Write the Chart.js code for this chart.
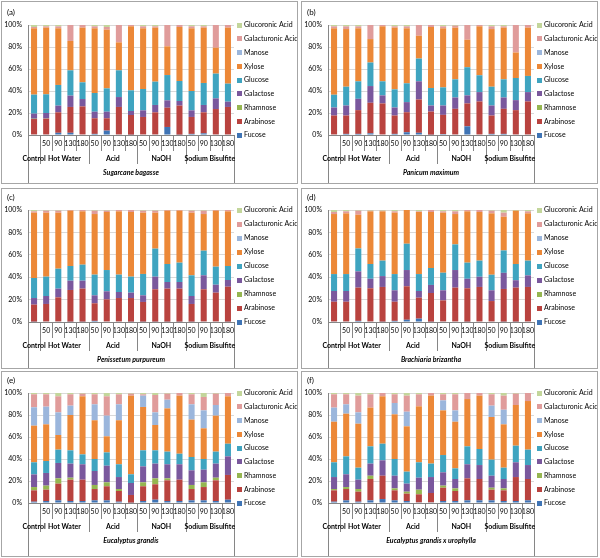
<!DOCTYPE html>
<html>
<head>
<meta charset="utf-8">
<title>Sugar composition after pretreatment</title>
<script src="https://cdn.jsdelivr.net/npm/chart.js@4.4.0/dist/chart.umd.min.js"></script>
<style>
    body { margin: 0; background: #fff; }
    .panel { position: absolute; border: 1px solid #a6a6a6; background: #fff; }
    .panel canvas { display: block; }
</style>
</head>
<body>
<div id="figure"></div>
<script>
/**
 * Monosaccharide composition (% of total) of six biomasses
 * after hot water, acid, NaOH and sodium bisulfite pretreatment
 */

// Series, bottom of the stack first
const components = ['Fucose', 'Arabinose', 'Rhamnose', 'Galactose', 'Glucose', 'Xylose', 'Manose', 'Galacturonic Acid', 'Glucoronic Acid'];

// [time, treatment] for each bar
const categories = [
    ['', 'Control'],
    ['50', 'Hot Water'], ['90', 'Hot Water'], ['130', 'Hot Water'], ['180', 'Hot Water'],
    ['50', 'Acid'], ['90', 'Acid'], ['130', 'Acid'], ['180', 'Acid'],
    ['50', 'NaOH'], ['90', 'NaOH'], ['130', 'NaOH'], ['180', 'NaOH'],
    ['50', 'Sodium Bisulfite'], ['90', 'Sodium Bisulfite'], ['130', 'Sodium Bisulfite'], ['180', 'Sodium Bisulfite']
];

const yTicks = [0, 10, 20, 30, 40, 50, 60, 70, 80, 90, 100];

// one row per component, one value per bar
const sugarcaneBagasse = [
    [0.5, 0.5, 2, 2, 0.5, 1, 4, 0.5, 0.3, 0.5, 0.5, 7.3, 0.3, 1, 1.5, 0.5, 0.5],
    [14, 14.3, 18.6, 23.5, 25.5, 14.2, 11.2, 25, 17.9, 15.9, 20.1, 17.5, 26.4, 15.4, 19.1, 23.1, 25],
    [0.3, 0.2, 0, 0, 0, 0, 0, 0, 0, 0, 0, 0, 0, 0, 0, 0, 0],
    [4.6, 5, 6.1, 10.3, 6.7, 6, 6, 9, 3.6, 6, 6.7, 6.7, 4.2, 6, 6.7, 9.7, 4.8],
    [17.3, 17, 18.8, 23, 15.2, 17, 21.2, 24.3, 18.8, 19.4, 21.2, 23, 18.2, 17.6, 20, 22.5, 16.4],
    [60.3, 60.6, 51.5, 26.7, 49.7, 58.8, 53.4, 25.4, 58.2, 55.2, 49.1, 26.1, 49.1, 57, 50.3, 23.6, 50.9],
    [0, 0, 0, 0, 0, 0, 0, 0, 0, 0, 0, 0, 0, 0, 0, 0, 0],
    [1.2, 1.2, 1.8, 14.5, 2.4, 1.8, 2.4, 15.8, 1.2, 1.8, 1.2, 19.4, 1.8, 1.8, 1.2, 20.6, 2.4],
    [1.8, 1.2, 1.2, 0, 0, 1.2, 1.8, 0, 0, 1.2, 1.2, 0, 0, 1.2, 1.2, 0, 0]
];

const panicumMaximum = [
    [0.5, 1, 1, 1.5, 0.5, 1, 2.5, 2, 0.3, 0.8, 0.5, 7.9, 0.5, 1, 1, 0.5, 0.5],
    [17.2, 16.7, 21.6, 27.8, 28.2, 16.7, 18.2, 30.3, 21, 17.5, 23.3, 20.8, 30, 16.7, 22.8, 22.1, 30],
    [0, 0, 0, 0, 0, 0, 0, 0, 0, 0, 0, 0, 0, 0, 0, 0, 0],
    [7.3, 9.1, 10.3, 15.2, 7.3, 7.3, 9.2, 16.5, 5.5, 8.5, 10.3, 7.3, 8.5, 9.1, 10.3, 9.1, 8.5],
    [11.6, 17.1, 15.9, 21.4, 12.8, 16.5, 17.1, 20.7, 15.9, 16.5, 16.5, 25.6, 15.3, 17.1, 16.5, 20.1, 14.7],
    [60.4, 52.4, 48.2, 21.3, 50, 56.1, 50, 20.7, 55.5, 53.7, 47, 25, 44.5, 52.4, 47, 23.2, 43.9],
    [0, 0, 0, 0, 0, 0, 0, 0, 0, 0, 0, 0, 0, 0, 0, 0, 0],
    [1.8, 2.5, 1.8, 12.8, 1.2, 1.2, 1.8, 9.8, 1.8, 1.8, 1.8, 13.4, 1.2, 2.5, 1.2, 25, 2.4],
    [1.2, 1.2, 1.2, 0, 0, 1.2, 1.2, 0, 0, 1.2, 0.6, 0, 0, 1.2, 1.2, 0, 0]
];

const penissetumPurpureum = [
    [0.3, 0.5, 0.5, 0.3, 0.3, 1, 0.5, 0.5, 0.3, 0.3, 0.3, 0.3, 0.3, 0.3, 0.5, 0.5, 0.3],
    [15.2, 15.6, 21.5, 28.3, 29.5, 15.7, 19.7, 20.9, 21.1, 17.6, 28.9, 29.5, 29.5, 15.8, 28.7, 25.7, 31.2],
    [0, 0, 0, 0, 0, 0, 0, 0, 0, 0, 0, 0, 0, 0, 0, 0, 0],
    [5.9, 7.1, 7.8, 8.3, 7.1, 7.1, 7.2, 5.4, 4.8, 5.9, 11.3, 5.9, 5.9, 7.1, 12.5, 7.1, 6],
    [17.9, 17.3, 17.8, 13.1, 14.3, 18.5, 19, 15.5, 14.3, 19.1, 25, 16.1, 17.3, 18.5, 22, 16.1, 12.5],
    [58.3, 57.1, 50, 49.4, 47.6, 54.1, 51.8, 56.5, 57.7, 54.7, 32.1, 47.6, 46.4, 55.9, 32.7, 50, 48.8],
    [0, 0, 0, 0, 0, 0, 0, 0, 0, 0, 0, 0, 0, 0, 0, 0, 0],
    [1.2, 1.8, 1.8, 0.6, 1.2, 3, 1.2, 1.2, 1.8, 1.8, 1.8, 0.6, 0.6, 1.8, 3, 0.6, 1.2],
    [1.2, 0.6, 0.6, 0, 0, 0.6, 0.6, 0, 0, 0.6, 0.6, 0, 0, 0.6, 0.6, 0, 0]
];

const brachiariaBrizantha = [
    [0.5, 0.5, 1, 0.5, 0.3, 1, 2, 3, 0.3, 0.5, 0.5, 0.3, 0.5, 0.5, 0.3, 0.3, 0.5],
    [17.6, 17.6, 29.7, 29.6, 31, 17.1, 29.9, 18.7, 25.6, 18.8, 30.2, 29.8, 30.8, 18.2, 29.2, 30.4, 30.8],
    [0, 0, 0, 0, 0, 0, 0, 0, 0, 0, 0, 0, 0, 0, 0, 0, 0],
    [9.6, 9.6, 14.5, 8.5, 9.7, 10.2, 14.5, 6, 7.2, 9, 15.7, 8.5, 9.1, 9.6, 14.4, 6.6, 10.3],
    [15.1, 15.1, 20.5, 13.2, 13.8, 14.5, 23.5, 15.1, 15.1, 15.7, 22.9, 14.4, 14.4, 13.9, 20, 14.5, 13.2],
    [53.6, 54.2, 30.1, 47, 44, 54.8, 30.1, 55.4, 50, 53.6, 27.1, 45.8, 43.4, 54.8, 30.1, 47.6, 42.2],
    [0, 0, 0, 0, 0, 0, 0, 0, 0, 0, 0, 0, 0, 0, 0, 0, 0],
    [1.8, 1.8, 3.6, 0.6, 0.6, 1.2, 0, 0.6, 1.8, 1.2, 2.4, 1.2, 1.8, 2.4, 3.6, 0, 1.8],
    [1.8, 1.2, 0.6, 0.6, 0.6, 1.2, 0, 1.2, 0, 1.2, 1.2, 0, 0, 0.6, 2.4, 0.6, 1.2]
];

const eucalyptusGrandis = [
    [1.2, 1.8, 2.4, 1.8, 1.8, 2.4, 2.4, 1.2, 0.3, 1.8, 3, 1.8, 1.8, 2.4, 2.4, 1.8, 3],
    [10.3, 10.3, 15.2, 19.4, 19.4, 10.3, 12.8, 9.7, 7, 13.4, 14, 18.8, 19.4, 10.3, 12.1, 18.8, 22.5],
    [3, 3.7, 4.8, 1.8, 0, 3.7, 3.6, 1.8, 0, 3.6, 5.4, 1.8, 0, 3.7, 4.3, 2.4, 0],
    [11.5, 11.5, 14, 12.8, 14, 12.7, 15.1, 10.9, 10.9, 14.5, 13.4, 12.8, 14, 13.3, 11.5, 12.8, 16.9],
    [11, 10.9, 12.1, 12.1, 9, 10.9, 12.1, 11.6, 7.9, 14.6, 12.1, 11.5, 9.6, 12.1, 9.7, 10.9, 11.5],
    [33.3, 33.3, 13.3, 32.1, 52.8, 35.2, 14.6, 40, 71.5, 39.4, 23, 39.3, 52.8, 34, 27.9, 32.7, 43.1],
    [16.7, 16.1, 20.6, 8.5, 0, 14.5, 18.8, 14.5, 0, 10.3, 11.5, 7.9, 0, 13.9, 16.3, 9.7, 0],
    [11.8, 11.2, 14.6, 10.3, 2.4, 9.1, 17.6, 9.1, 1.8, 1.2, 15.8, 5.5, 2.4, 9.1, 12.2, 10.3, 3],
    [1.2, 1.2, 3, 1.2, 0.6, 1.2, 3, 1.2, 0.6, 1.2, 1.8, 0.6, 0, 1.2, 3.6, 0.6, 0]
];

const eucalyptusUrophylla = [
    [1.2, 2.4, 1.2, 2.4, 3.6, 2.4, 1.8, 0.6, 0.6, 1.8, 1.8, 2.4, 2.4, 2.4, 1.8, 1.8, 2.4],
    [10.3, 10.3, 9.1, 19.4, 21.2, 9.1, 6.7, 7.3, 8.5, 12.1, 9.1, 20, 19.4, 9.7, 9.7, 21.8, 19.4],
    [1.2, 1.8, 2.4, 3, 0, 1.8, 1.8, 4.2, 0, 1.9, 2.4, 0, 0, 1.8, 1.8, 0, 0],
    [10.9, 11.6, 8.5, 11, 14, 11.5, 7.3, 10.9, 14.5, 12.1, 8.5, 12.8, 12.7, 10.9, 8.5, 13.4, 12.7],
    [13.4, 16.3, 10.9, 15.7, 15.1, 15.2, 10.9, 14, 12.2, 15.7, 9.7, 16.3, 14.6, 14.6, 10.3, 15.1, 14],
    [36.9, 38.8, 40, 35.2, 43.1, 40.6, 41.2, 50.9, 61.8, 40.6, 42.4, 43, 48.5, 38.8, 39.4, 37, 44.2],
    [12.8, 8.5, 10.3, 0, 0, 10.3, 13.3, 0, 0, 9.1, 10.3, 0, 0, 10.3, 13.3, 0, 0],
    [12.1, 9.1, 15.2, 12.1, 3, 7.9, 14.6, 10.9, 2.4, 5.5, 14.6, 5.5, 2.4, 10.3, 12.8, 10.3, 7.3],
    [1.2, 1.2, 2.4, 1.2, 0, 1.2, 2.4, 1.2, 0, 1.2, 1.2, 0, 0, 1.2, 2.4, 0.6, 0]
];

const panels = [
    { tag: '(a)', species: 'Sugarcane bagasse', values: sugarcaneBagasse },
    { tag: '(b)', species: 'Panicum maximum', values: panicumMaximum },
    { tag: '(c)', species: 'Penissetum purpureum', values: penissetumPurpureum },
    { tag: '(d)', species: 'Brachiaria brizantha', values: brachiariaBrizantha },
    { tag: '(e)', species: 'Eucalyptus grandis', values: eucalyptusGrandis },
    { tag: '(f)', species: 'Eucalyptus grandis x urophylla', values: eucalyptusUrophylla }
];

// Styling / layout only
const componentColors = ['#3f74b5', '#b9433f', '#95b650', '#7a589d', '#3fa4c0', '#ec8838', '#9bb6dc', '#e09c9b', '#c3d69b'];
const boxes = [
    { left: 1, top: 1, width: 297, height: 183, plotTop: 23, axisHeight: 48 },
    { left: 301, top: 1, width: 297, height: 183, plotTop: 23, axisHeight: 48 },
    { left: 1, top: 188, width: 297, height: 181, plotTop: 21, axisHeight: 46 },
    { left: 301, top: 188, width: 297, height: 181, plotTop: 21, axisHeight: 46 },
    { left: 1, top: 371, width: 297, height: 186, plotTop: 21, axisHeight: 53 },
    { left: 301, top: 371, width: 297, height: 186, plotTop: 21, axisHeight: 53 }
];
const FONT = 'Lato';
const FONT_SIZE = 7;
const AXIS_COLOR = '#868686';

Chart.defaults.font.family = FONT;
Chart.defaults.font.size = FONT_SIZE;
Chart.defaults.color = '#000';

/**
 * Draws the panel tag, the legend and the 3-level category axis
 */
const panelDecor = {
    id: 'panelDecor',
    afterDraw(chart, args, opts) {
        const ctx = chart.ctx;
        const area = chart.chartArea;
        const xScale = chart.scales.x;
        const labels = chart.data.labels;
        const step = (area.right - area.left) / labels.length;
        const y0 = area.bottom;

        ctx.save();
        ctx.textBaseline = 'middle';

        // panel tag
        ctx.fillStyle = '#000';
        ctx.font = '8px ' + FONT;
        ctx.textAlign = 'left';
        ctx.fillText(opts.tag, 5, area.top - 13);

        // legend, top item = last series
        const items = chart.data.datasets.slice().reverse();
        const gap = (area.bottom - area.top) / (items.length - 1);
        ctx.font = FONT_SIZE + 'px ' + FONT;
        items.forEach((ds, k) => {
            const yy = area.top + k * gap;
            ctx.fillStyle = ds.backgroundColor;
            ctx.fillRect(area.right + 3, Math.round(yy - 2.5), 5, 5);
            ctx.fillStyle = '#000';
            ctx.fillText(ds.label, area.right + 10, yy);
        });

        // category dividers
        ctx.strokeStyle = AXIS_COLOR;
        ctx.lineWidth = 1;
        const vline = (px, y1, y2) => {
            const xx = Math.round(px) + 0.5;
            ctx.beginPath();
            ctx.moveTo(xx, y1);
            ctx.lineTo(xx, y2);
            ctx.stroke();
        };
        vline(area.left, y0, chart.height);
        vline(area.right, y0, chart.height);

        ctx.textAlign = 'center';
        labels.forEach((lab, i) => {
            const cx = xScale.getPixelForValue(i);
            if (lab[0]) ctx.fillText(lab[0], cx, y0 + 9);
            if (i > 0) {
                const newGroup = lab[1] !== labels[i - 1][1];
                vline(cx - step / 2, y0, y0 + (newGroup ? 29 : 16));
            }
        });

        // treatment row
        ctx.font = 'bold ' + FONT_SIZE + 'px ' + FONT;
        let start = 0;
        labels.forEach((lab, i) => {
            const last = i === labels.length - 1 || labels[i + 1][1] !== lab[1];
            if (last) {
                const mid = (xScale.getPixelForValue(start) + xScale.getPixelForValue(i)) / 2;
                ctx.fillText(lab[1], mid, y0 + 23.5);
                start = i + 1;
            }
        });

        // species row
        ctx.font = 'italic bold ' + FONT_SIZE + 'px ' + FONT;
        ctx.fillText(opts.species, (area.left + area.right) / 2, y0 + 37.5);
        ctx.restore();
    }
};

/**
 * Build one stacked 100% bar panel
 */
function initPanel(panel, box) {
    const holder = document.createElement('div');
    holder.className = 'panel';
    holder.style.left = box.left + 'px';
    holder.style.top = box.top + 'px';
    holder.style.width = (box.width - 2) + 'px';
    holder.style.height = (box.height - 2) + 'px';
    const canvas = document.createElement('canvas');
    canvas.width = box.width - 2;
    canvas.height = box.height - 2;
    holder.appendChild(canvas);
    document.getElementById('figure').appendChild(holder);

    const data = {
        labels: categories,
        datasets: components.map((name, k) => ({
            label: name,
            data: panel.values[k],
            backgroundColor: componentColors[k],
            borderWidth: 0,
            categoryPercentage: 1,
            barPercentage: 0.5
        }))
    };

    const config = {
        type: 'bar',
        data: data,
        plugins: [panelDecor],
        options: {
            responsive: false,
            animation: false,
            layout: {
                padding: { top: box.plotTop, right: 63, bottom: 0, left: 0 }
            },
            plugins: {
                legend: { display: false },
                tooltip: { enabled: false },
                panelDecor: { tag: panel.tag, species: panel.species }
            },
            scales: {
                x: {
                    stacked: true,
                    grid: { display: false },
                    border: { display: true, color: AXIS_COLOR },
                    ticks: { display: false },
                    afterFit: function(scale) { scale.height = box.axisHeight; }
                },
                y: {
                    stacked: true,
                    min: 0,
                    max: 100,
                    grid: { color: '#d9d9d9', drawTicks: false },
                    border: { display: true, color: AXIS_COLOR },
                    afterBuildTicks: function(scale) {
                        scale.ticks = yTicks.map(v => ({ value: v }));
                    },
                    ticks: {
                        padding: 6,
                        callback: function(value) { return value + '%'; }
                    },
                    afterFit: function(scale) { scale.width = 26; }
                }
            }
        }
    };

    return new Chart(canvas, config);
}

panels.forEach((panel, i) => initPanel(panel, boxes[i]));
</script>
</body>
</html>
